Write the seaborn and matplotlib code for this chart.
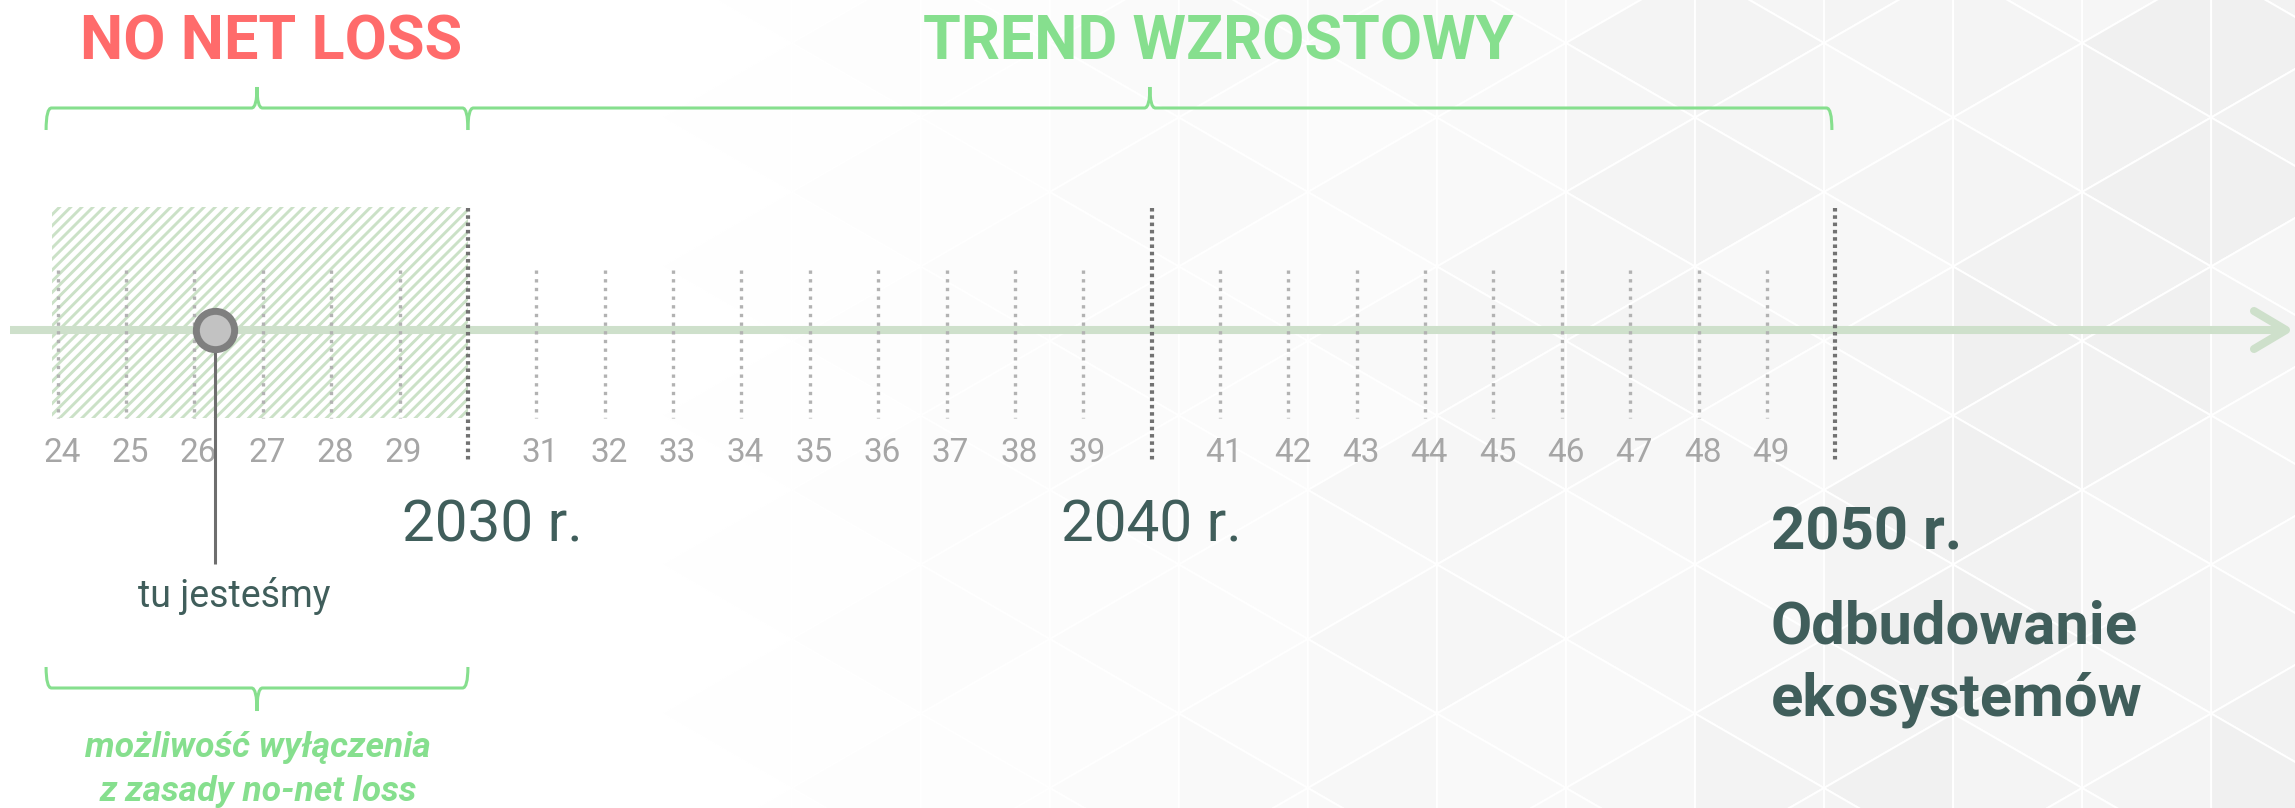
import numpy as np
import matplotlib
matplotlib.use("Agg")
import matplotlib.pyplot as plt
import seaborn as sns
from matplotlib.path import Path
from matplotlib.patches import PathPatch, Rectangle
from matplotlib.collections import PolyCollection
from matplotlib import font_manager

# ---------------- data ----------------
minor_years = [2024, 2025, 2026, 2027, 2028, 2029,
               2031, 2032, 2033, 2034, 2035, 2036, 2037, 2038, 2039,
               2041, 2042, 2043, 2044, 2045, 2046, 2047, 2048, 2049]
minor_labels = ["24", "25", "26", "27", "28", "29",
                "31", "32", "33", "34", "35", "36", "37", "38", "39",
                "41", "42", "43", "44", "45", "46", "47", "48", "49"]
major_years = [2030, 2040, 2050]
major_labels = ["2030 r.", "2040 r.", "2050 r."]
goal_lines = ["Odbudowanie", "ekosystemów"]
now_year = 2026.3
now_label = "tu jesteśmy"
period_names = ["NO NET LOSS", "TREND WZROSTOWY"]
period_starts = [2023.83, 2030.0]
period_ends = [2030.0, 2049.95]
hatch_range = [2023.92, 2030.0]
exemption_range = [2023.83, 2030.0]
exemption_text = ["możliwość wyłączenia", "z zasady no-net loss"]

# ---------------- style ----------------
W, H = 2295, 808
PPY = 68.37            # pixels per year
X0 = 2024 - 57.7 / PPY # year at left edge


def yr(px):
    return X0 + px / PPY


RED = "#ff6b6b"
GREEN = "#86df8e"
TEAL = "#405e5b"
AXIS_C = "#cee0cb"
HATCH_C = "#cbe1c7"
MINOR_C = "#b2b2b2"
MAJOR_C = "#727272"
LABEL_C = "#a6a6a6"

sns.set_theme(style="white")
names = {f.name for f in font_manager.fontManager.ttflist}
base_font = "Roboto" if "Roboto" in names else "DejaVu Sans"
plt.rcParams["font.family"] = [base_font, "DejaVu Sans"]
plt.rcParams["hatch.linewidth"] = 2.1
plt.rcParams["hatch.color"] = HATCH_C

fig = plt.figure(figsize=(W / 100, H / 100), dpi=100)
fig.patch.set_facecolor("white")

# ---------------- decorative background (triangle lattice) ----------------
ax_bg = fig.add_axes([0, 0, 1, 1], zorder=0)
ax_bg.set_xlim(0, W)
ax_bg.set_ylim(H, 0)
ax_bg.axis("off")

s = 149.0
dx = s * np.sqrt(3) / 2
x_ref, y_ref = 1824.0, 43.0
polys, cols = [], []
for k in range(-16, 5):
    xl, xr = x_ref + k * dx, x_ref + (k + 1) * dx
    verts = []
    for j in range(-4, 16):
        if (k + j) % 2 == 0:
            verts.append((xl, y_ref + j * s / 2, k, j))
        if (k + 1 + j) % 2 == 0:
            verts.append((xr, y_ref + j * s / 2, k + 1, j))
    verts.sort(key=lambda v: v[1])
    for i in range(len(verts) - 2):
        tri = verts[i:i + 3]
        cx = np.mean([v[0] for v in tri])
        centre = [v for v in tri if v[3] % 3 == 1][0]
        hk, hj = centre[2], centre[3]
        f = np.clip((cx - 650) / 1350, 0, 1) ** 1.1
        lvl = [0.035, 0.065, 0.05, 0.08][(hk * 3 + hj) % 4]
        sub = 0.008 * (i % 2)
        g = 1 - f * (lvl + sub)
        polys.append([(v[0], v[1]) for v in tri])
        cols.append((g, g, g))
pc = PolyCollection(polys, facecolors=cols, edgecolors="white", linewidths=1.4)
ax_bg.add_collection(pc)

# ---------------- main timeline ----------------
ax = fig.add_axes([0, 0, 1, 1], zorder=1)
ax.patch.set_alpha(0)

AXIS_Y = 330

# hatched "no net loss" zone
ax.add_patch(Rectangle((hatch_range[0], 207), hatch_range[1] - hatch_range[0], 211,
                       facecolor="none", edgecolor=HATCH_C, hatch="///", lw=0, zorder=1))

# axis with arrow
ax.plot([yr(10), yr(2284)], [AXIS_Y, AXIS_Y], color=AXIS_C, lw=5.8,
        solid_capstyle="butt", zorder=2)
tip = yr(2286)
ax.plot([tip - 32 / PPY, tip, tip - 32 / PPY], [AXIS_Y - 19, AXIS_Y, AXIS_Y + 19],
        color=AXIS_C, lw=5.8, solid_capstyle="round", solid_joinstyle="round", zorder=2)

# ticks
ax.vlines(minor_years, 270, 418, colors=MINOR_C, lw=2.4,
          linestyles=[(0, (1.0, 1.6))], zorder=3)
ax.vlines(major_years, 208, 460, colors=MAJOR_C, lw=3.0,
          linestyles=[(0, (0.85, 0.9))], zorder=3)

for y, lab in zip(minor_years, minor_labels):
    ax.text(y + 0.06, 462, lab, ha="center", va="baseline", fontsize=24, color=LABEL_C)

# major labels
ax.text(yr(492), 542, major_labels[0], ha="center", va="baseline", fontsize=42, color=TEAL)
ax.text(yr(1151), 542, major_labels[1], ha="center", va="baseline", fontsize=42, color=TEAL)
ax.text(yr(1771), 550, major_labels[2], ha="left", va="baseline", fontsize=43,
        fontweight="bold", color=TEAL)
for line, base in zip(goal_lines, [643, 715]):
    ax.text(yr(1771), base, line, ha="left", va="baseline", fontsize=43,
            fontweight="bold", color=TEAL)

# "now" marker
ax.plot([now_year, now_year], [350, 564], color="#6e6e6e", lw=2.2, zorder=4,
        solid_capstyle="butt")
sns.scatterplot(x=[now_year], y=[AXIS_Y], s=760, color="#c2c2c2", edgecolor="#7f7f7f",
                linewidth=5.0, zorder=5, ax=ax, legend=False)
ax.text(yr(234), 596, now_label, ha="center", va="center", fontsize=27, color=TEAL)


# braces
def brace(x0, x1, y_end, y_bar, y_tip, r=0.08):
    xm = (x0 + x1) / 2
    verts = [(x0, y_end), (x0, y_bar), (x0 + r, y_bar),
             (xm - r, y_bar),
             (xm, y_bar), (xm, y_tip),
             (xm, y_bar), (xm + r, y_bar),
             (x1 - r, y_bar),
             (x1, y_bar), (x1, y_end)]
    codes = [Path.MOVETO, Path.CURVE3, Path.CURVE3,
             Path.LINETO,
             Path.CURVE3, Path.CURVE3,
             Path.CURVE3, Path.CURVE3,
             Path.LINETO,
             Path.CURVE3, Path.CURVE3]
    ax.add_patch(PathPatch(Path(verts, codes), facecolor="none", edgecolor=GREEN,
                           lw=2.2, zorder=3, capstyle="butt"))


for a, b in zip(period_starts, period_ends):
    brace(a, b, 130, 108, 87)
brace(exemption_range[0], exemption_range[1], 667, 688, 711)

# period titles
ax.text(yr(271), 60, period_names[0], ha="center", va="baseline", fontsize=44,
        fontweight="bold", color=RED)
ax.text(yr(1218), 60, period_names[1], ha="center", va="baseline", fontsize=44,
        fontweight="bold", color=GREEN)

# exemption note
for line, base in zip(exemption_text, [757, 801]):
    ax.text(yr(258), base, line, ha="center", va="baseline", fontsize=25.5,
            fontweight="bold", fontstyle="italic", color=GREEN)

ax.set_xlim(X0, X0 + W / PPY)
ax.set_ylim(H, 0)
ax.axis("off")

fig.savefig("out.png", dpi=100, facecolor="white")
